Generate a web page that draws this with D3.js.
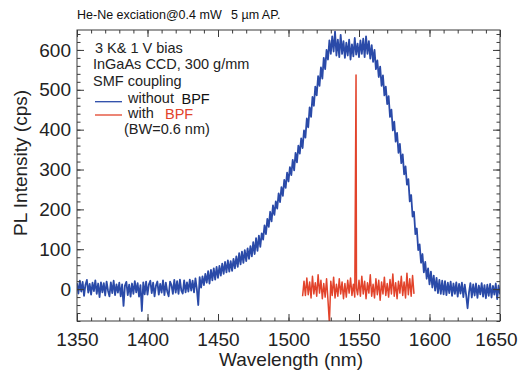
<!DOCTYPE html>
<html>
<head>
<meta charset="utf-8">
<script src="https://cdn.jsdelivr.net/npm/d3@7"></script>
<style>
  html, body { margin: 0; padding: 0; background: #fff; }
  svg { display: block; font-family: "Liberation Sans", Arial, sans-serif; }
</style>
</head>
<body>
<svg id="chart" width="518" height="372"></svg>
<script>
// PL spectrum without band-pass filter: 1 nm steps from 1350 nm (cps)
const blueStart = 1350;
const blueCps = [
  15, -11, 21, -6, 18, -17, 11, 23, -9, 13,
  -14, 16, -5, 22, -12, 14, -20, 17, -8, 15,
  -16, 19, -4, -18, 17, -10, 21, -15, 12, -9,
  16, -18, 12, -42, 9, 18, -15, 11, -19, 14,
  -12, 20, -8, 15, -19, 10, -55, 17, -13, 19,
  -14, 12, 21, -10, 16, -18, 9, 19, -14, 13,
  -9, 22, -15, 16, -6, -18, 19, 10, -12, 23,
  -9, 20, -12, 24, -4, -11, 22, -8, 17, -6,
  24, -4, 21, -8, 27, 0, -40, 30, 4, 32,
  10, 38, 16, 45, 14, 48, 22, 52, 24, 56,
  28, 58, 34, 64, 38, 68, 42, 72, 44, 70,
  46, 76, 52, 82, 56, 90, 62, 94, 66, 98,
  70, 102, 76, 108, 82, 118, 88, 128, 96, 134,
  106, 140, 124, 160, 138, 176, 156, 194, 170, 210,
  186, 220, 202, 240, 218, 256, 234, 274, 254, 292,
  270, 306, 286, 324, 298, 342, 318, 360, 340, 378,
  354, 398, 380, 428, 406, 456, 432, 482, 460, 508,
  486, 534, 510, 556, 528, 580, 552, 600, 576, 624,
  590, 634, 596, 646, 586, 626, 582, 638, 590, 622,
  580, 618, 586, 626, 576, 614, 584, 630, 588, 616,
  582, 624, 590, 628, 582, 634, 590, 622, 578, 612,
  570, 600, 552, 574, 532, 558, 510, 536, 486, 508,
  464, 484, 432, 450, 398, 420, 370, 392, 342, 364,
  316, 338, 288, 308, 262, 276, 220, 236, 182, 194,
  138, 152, 98, 112, 66, 88, 42, 68, 26, 52,
  12, 44, 4, 34, -4, 28, -10, 23, -12, 21,
  -13, 20, -15, 16, -10, 19, -17, 14, -12, 17,
  -19, 13, -11, 16, -20, 11, -15, -48, -9, 15,
  -21, 12, -16, 14, -22, 9, -13, 15, -19, 10,
  -23, 11, -17, 13, -21, 8, -14, 14, -25, 9,
  -13
];

// Spectrum through the 0.6 nm band-pass filter
const redNm = [
  1510, 1511, 1512, 1513, 1514, 1515, 1516, 1517, 1518, 1519,
  1520, 1521, 1522, 1523, 1524, 1525, 1526, 1527, 1528, 1529,
  1530, 1531, 1532, 1533, 1534, 1535, 1536, 1537, 1538, 1539,
  1540, 1541, 1542, 1543, 1544, 1545, 1546, 1547, 1547.9, 1548.2, 1549,
  1550, 1551, 1552, 1553, 1554, 1555, 1556, 1557, 1558, 1559,
  1560, 1561, 1562, 1563, 1564, 1565, 1566, 1567, 1568, 1569,
  1570, 1571, 1572, 1573, 1574, 1575, 1576, 1577, 1578, 1579,
  1580, 1581, 1582, 1583, 1584, 1585, 1586, 1587, 1588, 1589
];
const redCps = [
  -18, 20, -16, 28, -14, 18, -22, 32, -12, 16,
  -18, 36, -10, 22, -24, 14, -20, 26, -28, -85,
  20, -16, 30, -22, 12, -18, 26, -12, 18, -24,
  14, -20, 22, -10, 28, -16, 12, -20, 537, 2, -14,
  22, -18, 32, -12, 20, -24, 16, -10, 36, -18,
  12, -22, 26, -14, 22, -28, 18, -12, 30, -16,
  14, -20, 24, -12, 38, -18, 16, -24, 20, -10,
  32, -16, 18, -22, 40, -14, 26, -18, 34, -12
];

const xTicks = [1350, 1400, 1450, 1500, 1550, 1600, 1650];
const yTicks = [0, 100, 200, 300, 400, 500, 600];

const title1 = "He-Ne exciation@0.4 mW";
const title2 = "5 \u00b5m AP.";
const notes = ["3 K& 1 V bias", "InGaAs CCD, 300 g/mm", "SMF coupling"];

const blueColor = "#2a4aa8";
const redColor = "#e2432b";
const axisColor = "#3a3a3a";

const svg = d3.select("#chart");
const m = { left: 77, right: 500, top: 30, bottom: 321 };

const x = d3.scaleLinear().domain([1350, 1650]).range([m.left, m.right]);
const y = d3.scaleLinear().domain([-80, 650]).range([m.bottom, m.top]);

svg.append("defs").append("clipPath").attr("id", "plot-clip")
  .append("rect")
  .attr("x", m.left).attr("y", m.top)
  .attr("width", m.right - m.left).attr("height", m.bottom - m.top);

const blueData = blueCps.map((v, i) => [blueStart + i, v]);
const redData = redNm.map((n, i) => [n, redCps[i]]);

const line = d3.line().x(d => x(d[0])).y(d => y(d[1]));

const plot = svg.append("g").attr("clip-path", "url(#plot-clip)");
plot.append("path").datum(blueData)
  .attr("d", line).attr("fill", "none")
  .attr("stroke", blueColor).attr("stroke-width", 1.8)
  .attr("stroke-linejoin", "round");
plot.append("path").datum(redData)
  .attr("d", line).attr("fill", "none")
  .attr("stroke", redColor).attr("stroke-width", 1.5)
  .attr("stroke-linejoin", "round");

// Axes: inward major and minor ticks on all four sides
const minorX = d3.range(1350, 1651, 10);
const minorY = d3.range(-80, 651, 20);

function styleAxis(g) {
  g.select(".domain").remove();
  g.selectAll(".tick line").attr("stroke", axisColor);
  g.selectAll(".tick text").attr("fill", "#222").style("font-size", "19px")
    .style("font-family", "'Liberation Sans', Arial, sans-serif");
}

svg.append("g").attr("transform", `translate(0,${m.bottom})`)
  .call(d3.axisBottom(x).tickValues(minorX).tickSize(-3.5).tickFormat(""))
  .call(styleAxis);
svg.append("g").attr("transform", `translate(0,${m.bottom})`)
  .call(d3.axisBottom(x).tickValues(xTicks).tickSize(-7).tickPadding(12).tickFormat(d3.format("d")))
  .call(styleAxis)
  .call(g => g.selectAll(".tick text").filter(d => d === 1650).attr("dx", -4));
svg.append("g").attr("transform", `translate(0,${m.top})`)
  .call(d3.axisTop(x).tickValues(minorX).tickSize(-3.5).tickFormat(""))
  .call(styleAxis);
svg.append("g").attr("transform", `translate(0,${m.top})`)
  .call(d3.axisTop(x).tickValues(xTicks).tickSize(-7).tickFormat(""))
  .call(styleAxis);

svg.append("g").attr("transform", `translate(${m.left},0)`)
  .call(d3.axisLeft(y).tickValues(minorY).tickSize(-3.5).tickFormat(""))
  .call(styleAxis);
svg.append("g").attr("transform", `translate(${m.left},0)`)
  .call(d3.axisLeft(y).tickValues(yTicks).tickSize(-7).tickPadding(6).tickFormat(d3.format("d")))
  .call(styleAxis);
svg.append("g").attr("transform", `translate(${m.right},0)`)
  .call(d3.axisRight(y).tickValues(minorY).tickSize(-3.5).tickFormat(""))
  .call(styleAxis);
svg.append("g").attr("transform", `translate(${m.right},0)`)
  .call(d3.axisRight(y).tickValues(yTicks).tickSize(-7).tickFormat(""))
  .call(styleAxis);

svg.append("rect")
  .attr("x", m.left).attr("y", m.top)
  .attr("width", m.right - m.left).attr("height", m.bottom - m.top)
  .attr("fill", "none").attr("stroke", axisColor).attr("stroke-width", 1);

// Axis titles
svg.append("text")
  .attr("x", 291).attr("y", 366)
  .attr("text-anchor", "middle").style("font-size", "19px").attr("fill", "#222")
  .text("Wavelength (nm)");
svg.append("text")
  .attr("transform", "translate(27,163) rotate(-90)")
  .attr("text-anchor", "middle").style("font-size", "19px").attr("fill", "#222")
  .text("PL Intensity (cps)");

// Title line
svg.append("text").attr("x", 77).attr("y", 19)
  .style("font-size", "12.5px").attr("fill", "#111").text(title1);
svg.append("text").attr("x", 231).attr("y", 19)
  .style("font-size", "12.5px").attr("fill", "#111").text(title2);

// Measurement notes and legend
const noteY = [52.7, 69, 85.7];
notes.forEach((t, i) => {
  svg.append("text").attr("x", i === 0 ? 95 : 93).attr("y", noteY[i])
    .style("font-size", "14.5px").attr("fill", "#222").text(t);
});

const legend = [
  { color: blueColor, label: "without", tag: "BPF", tagColor: "#111", y: 103.3, lineY: 101.7, tagX: 181.5 },
  { color: redColor, label: "with", tag: "BPF", tagColor: redColor, y: 118.3, lineY: 115, tagX: 165 }
];
legend.forEach(d => {
  svg.append("line")
    .attr("x1", 95).attr("x2", 122).attr("y1", d.lineY).attr("y2", d.lineY)
    .attr("stroke", d.color).attr("stroke-width", 1.3);
  svg.append("text").attr("x", 128).attr("y", d.y)
    .style("font-size", "14.5px").attr("fill", "#222").text(d.label);
  svg.append("text").attr("x", d.tagX).attr("y", d.y + 1)
    .style("font-size", "14.5px").attr("fill", d.tagColor).text(d.tag);
});
svg.append("text").attr("x", 124).attr("y", 133.8)
  .style("font-size", "14.5px").attr("fill", "#222").text("(BW=0.6 nm)");
</script>
</body>
</html>
